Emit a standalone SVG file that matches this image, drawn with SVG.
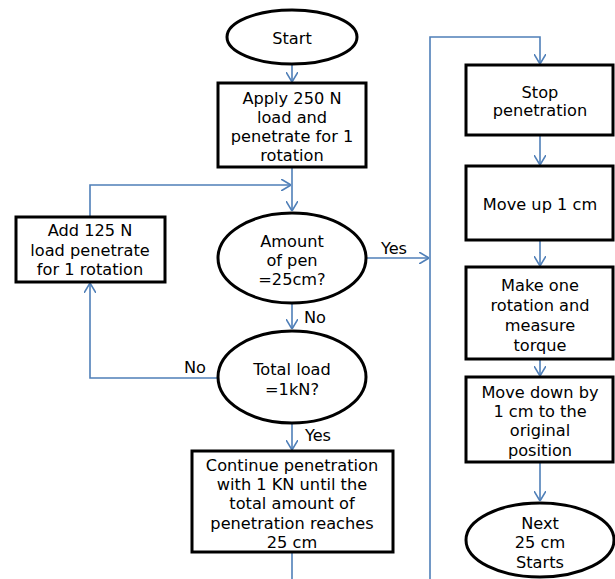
<svg xmlns="http://www.w3.org/2000/svg" width="615" height="579" viewBox="0 0 615 579">
<style>
.n{fill:#fff;stroke:#000;stroke-width:3}
.t{font-family:"DejaVu Sans",Verdana,sans-serif;font-size:16.2px;fill:#000;text-anchor:middle;dominant-baseline:central}
.c{fill:none;stroke:#4f7fb8;stroke-width:1.6}
</style>
<defs>
<marker id="a" viewBox="0 0 10 12" refX="10" refY="6" markerWidth="10" markerHeight="12" markerUnits="userSpaceOnUse" orient="auto">
<path d="M0,0 L10,6 L0,12" fill="none" stroke="#4f7fb8" stroke-width="1.6"/>
</marker>
</defs>
<rect width="615" height="579" fill="#fff"/>
<g id="connectors">
<path class="c" d="M292,65 V82" marker-end="url(#a)"/>
<path class="c" d="M292,167 V211" marker-end="url(#a)"/>
<path class="c" d="M90,217 V185 H291" marker-end="url(#a)"/>
<path class="c" d="M292,303 V329" marker-end="url(#a)"/>
<path class="c" d="M218,378 H90 V283" marker-end="url(#a)"/>
<path class="c" d="M292,423 V450" marker-end="url(#a)"/>
<path class="c" d="M292,552 V579"/>
<path class="c" d="M367,258 H429" marker-end="url(#a)"/>
<path class="c" d="M430,579 V37 H540 V64" marker-end="url(#a)"/>
<path class="c" d="M540,135 V165" marker-end="url(#a)"/>
<path class="c" d="M540,240 V266" marker-end="url(#a)"/>
<path class="c" d="M540,359 V376" marker-end="url(#a)"/>
<path class="c" d="M540,462 V501" marker-end="url(#a)"/>
<text class="t" x="394" y="248">Yes</text>
<text class="t" x="315" y="317">No</text>
<text class="t" x="195" y="367">No</text>
<text class="t" x="318" y="435">Yes</text>
</g>
<g id="start">
<ellipse class="n" cx="292" cy="37" rx="65" ry="27"/>
<text class="t" x="292" y="38">Start</text>
</g>
<g id="apply">
<rect class="n" x="218" y="83" width="148" height="84"/>
<text class="t" x="292" y="98">Apply 250 N</text>
<text class="t" x="292" y="117">load and</text>
<text class="t" x="292" y="136">penetrate for 1</text>
<text class="t" x="292" y="155">rotation</text>
</g>
<g id="add">
<rect class="n" x="16" y="217" width="149" height="65"/>
<text class="t" x="90" y="230">Add 125 N</text>
<text class="t" x="90" y="250">load penetrate</text>
<text class="t" x="90" y="269">for 1 rotation</text>
</g>
<g id="amount">
<ellipse class="n" cx="292" cy="258" rx="74" ry="45"/>
<text class="t" x="292" y="241">Amount</text>
<text class="t" x="292" y="260">of pen</text>
<text class="t" x="292" y="279">=25cm?</text>
</g>
<g id="total">
<ellipse class="n" cx="292" cy="377" rx="74" ry="46"/>
<text class="t" x="292" y="369">Total load</text>
<text class="t" x="292" y="389">=1kN?</text>
</g>
<g id="continue">
<rect class="n" x="192" y="451" width="201" height="101"/>
<text class="t" x="292" y="465">Continue penetration</text>
<text class="t" x="292" y="484">with 1 KN until the</text>
<text class="t" x="292" y="503">total amount of</text>
<text class="t" x="292" y="523">penetration reaches</text>
<text class="t" x="292" y="542">25 cm</text>
</g>
<g id="stop">
<rect class="n" x="466" y="65" width="147" height="70"/>
<text class="t" x="540" y="92">Stop</text>
<text class="t" x="540" y="110">penetration</text>
</g>
<g id="moveup">
<rect class="n" x="466" y="166" width="147" height="74"/>
<text class="t" x="540" y="204">Move up 1 cm</text>
</g>
<g id="makeone">
<rect class="n" x="466" y="267" width="147" height="92"/>
<text class="t" x="540" y="285">Make one</text>
<text class="t" x="540" y="305">rotation and</text>
<text class="t" x="540" y="325">measure</text>
<text class="t" x="540" y="345">torque</text>
</g>
<g id="movedown">
<rect class="n" x="466" y="377" width="147" height="85"/>
<text class="t" x="540" y="392">Move down by</text>
<text class="t" x="540" y="411">1 cm to the</text>
<text class="t" x="540" y="430">original</text>
<text class="t" x="540" y="450">position</text>
</g>
<g id="next">
<ellipse class="n" cx="540" cy="540" rx="74" ry="37"/>
<text class="t" x="540" y="523">Next</text>
<text class="t" x="540" y="542">25 cm</text>
<text class="t" x="540" y="562">Starts</text>
</g>
</svg>
